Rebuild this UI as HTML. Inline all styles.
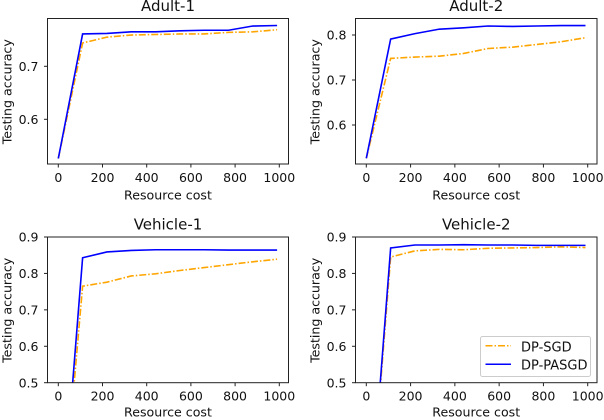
<!DOCTYPE html>
<html>
<head>
<meta charset="utf-8">
<style>
html,body{margin:0;padding:0;background:#fff;width:604px;height:420px;overflow:hidden;}
svg{display:block;filter:blur(0.35px);}
text{font-family:"DejaVu Sans","Liberation Sans",sans-serif;fill:#111;}
</style>
</head>
<body>
<svg id="chart" xmlns="http://www.w3.org/2000/svg" width="604" height="420" viewBox="0 0 604 420">
  <g id="panels"></g>
  <g>
    <rect x="480.5" y="336.5" width="110" height="40" rx="2" fill="#fff" fill-opacity="0.85" stroke="#ccc" stroke-width="1"></rect>
    <g>
      <line x1="485.5" y1="345.7" x2="511" y2="345.7" stroke="#ffa500" stroke-width="1.5" stroke-dasharray="7 2 1.5 2"></line>
      <text x="521" y="351.5" font-size="13">DP-SGD</text>
    </g>
    <g>
      <line x1="485.5" y1="364.3" x2="511" y2="364.3" stroke="#0000ff" stroke-width="1.5"></line>
      <text x="521" y="369.5" font-size="13">DP-PASGD</text>
    </g>
  </g>
</svg>
<script>
const costs = [0, 110, 220, 330, 440, 550, 660, 770, 880, 990];
const xTickLabels = [0, 200, 400, 600, 800, 1000];

const adult1Sgd = [0.526, 0.744, 0.755, 0.759, 0.760, 0.761, 0.761, 0.764, 0.765, 0.769];
const adult1Pasgd = [0.526, 0.761, 0.762, 0.765, 0.765, 0.767, 0.768, 0.768, 0.776, 0.777];
const adult2Sgd = [0.526, 0.748, 0.751, 0.753, 0.759, 0.770, 0.773, 0.779, 0.785, 0.794];
const adult2Pasgd = [0.526, 0.791, 0.803, 0.813, 0.816, 0.820, 0.819, 0.820, 0.821, 0.821];
const vehicle1Sgd = [0.0, 0.765, 0.776, 0.793, 0.799, 0.808, 0.816, 0.824, 0.832, 0.839];
const vehicle1Pasgd = [0.005, 0.843, 0.859, 0.863, 0.865, 0.865, 0.865, 0.864, 0.864, 0.864];
const vehicle2Sgd = [0.004, 0.845, 0.862, 0.866, 0.865, 0.869, 0.870, 0.871, 0.873, 0.871];
const vehicle2Pasgd = [0.004, 0.870, 0.878, 0.878, 0.879, 0.878, 0.878, 0.877, 0.877, 0.877];

const adult1Ticks = [0.6, 0.7];
const adult2Ticks = [0.6, 0.7, 0.8];
const vehicleTicks = [0.5, 0.6, 0.7, 0.8, 0.9];

const NS = 'http://www.w3.org/2000/svg';
const root = document.getElementById('panels');

function make(parent, tag, attrs, text) {
  const el = document.createElementNS(NS, tag);
  for (const k in attrs) el.setAttribute(k, attrs[k]);
  if (text !== undefined) el.textContent = text;
  parent.appendChild(el);
  return el;
}

function drawPanel(p, idx) {
  const sx = v => p.x0 + (v / 1000) * (p.x1000 - p.x0);
  const sy = v => p.yB + (v - p.vB) / (p.vA - p.vB) * (p.yA - p.yB);

  const g = make(root, 'g', {});
  
  

  const clip = make(g, 'clipPath', { id: 'clip' + idx });
  make(clip, 'rect', { x: p.left, y: p.top, width: p.right - p.left, height: p.bottom - p.top });

  const title = make(g, 'text', { x: (p.left + p.right) / 2, y: p.top - 7.3, 'font-size': 15, 'text-anchor': 'middle' }, p.title);
  
  

  const series = [
    { values: p.sgd, color: '#ffa500', dash: '7 2 1.5 2', name: 'dp-sgd' },
    { values: p.pasgd, color: '#0000ff', dash: 'none', name: 'dp-pasgd' }
  ];
  series.forEach(s => {
    const pts = costs.map((c, i) => sx(c).toFixed(2) + ',' + sy(s.values[i]).toFixed(2)).join(' ');
    const line = make(g, 'polyline', { points: pts, fill: 'none', stroke: s.color, 'stroke-width': 1.6, 'stroke-dasharray': s.dash, 'clip-path': 'url(#clip' + idx + ')' });
    
    
  });

  const frame = make(g, 'rect', { x: p.left, y: p.top, width: p.right - p.left, height: p.bottom - p.top, fill: 'none', stroke: '#222', 'stroke-width': 1 });
  
  

  xTickLabels.forEach(t => {
    const x = sx(t);
    const tick = make(g, 'line', { x1: x, x2: x, y1: p.bottom, y2: p.bottom + 3.5, stroke: '#222', 'stroke-width': 1 });
    
    
    const label = make(g, 'text', { x: x, y: p.bottom + 18, 'font-size': 12.5, 'text-anchor': 'middle' }, t);
    
    
  });

  p.ticks.forEach(t => {
    const y = sy(t);
    const tick = make(g, 'line', { x1: p.left - 3.5, x2: p.left, y1: y, y2: y, stroke: '#222', 'stroke-width': 1 });
    
    
    const label = make(g, 'text', { x: p.left - 9, y: y + 4.6, 'font-size': 12.5, 'text-anchor': 'end' }, t.toFixed(1));
    
    
  });

  const xTitle = make(g, 'text', { x: (p.left + p.right) / 2, y: p.xTitleY, 'font-size': 12.6, 'text-anchor': 'middle' }, 'Resource cost');
  
  

  const cy = (p.top + p.bottom) / 2 + 0.5;
  const yx = p.left - 36;
  const yTitle = make(g, 'text', { x: yx, y: cy, 'font-size': 12.6, 'text-anchor': 'middle', transform: 'rotate(-90 ' + yx + ' ' + cy + ')' }, 'Testing accuracy');
  
  
}

const panelList = [
  { slug: 'adult-1', title: 'Adult-1', left: 47.5, right: 288.5, top: 18.5, bottom: 164, xTitleY: 199.5, x0: 58.3, x1000: 279.3, vA: 0.7, yA: 66.3, vB: 0.6, yB: 119.3, ticks: adult1Ticks, sgd: adult1Sgd, pasgd: adult1Pasgd },
  { slug: 'adult-2', title: 'Adult-2', left: 355.5, right: 597, top: 18.5, bottom: 164, xTitleY: 199.5, x0: 366.3, x1000: 587.7, vA: 0.8, yA: 35, vB: 0.6, yB: 125, ticks: adult2Ticks, sgd: adult2Sgd, pasgd: adult2Pasgd },
  { slug: 'vehicle-1', title: 'Vehicle-1', left: 47.5, right: 288.5, top: 237, bottom: 382.7, xTitleY: 416.4, x0: 58.3, x1000: 279.3, vA: 0.9, yA: 237, vB: 0.5, yB: 382.7, ticks: vehicleTicks, sgd: vehicle1Sgd, pasgd: vehicle1Pasgd },
  { slug: 'vehicle-2', title: 'Vehicle-2', left: 355.5, right: 597, top: 237, bottom: 382.7, xTitleY: 416.4, x0: 366.3, x1000: 587.7, vA: 0.9, yA: 237, vB: 0.5, yB: 382.7, ticks: vehicleTicks, sgd: vehicle2Sgd, pasgd: vehicle2Pasgd }
];
panelList.forEach(drawPanel);
</script>
</body>
</html>
